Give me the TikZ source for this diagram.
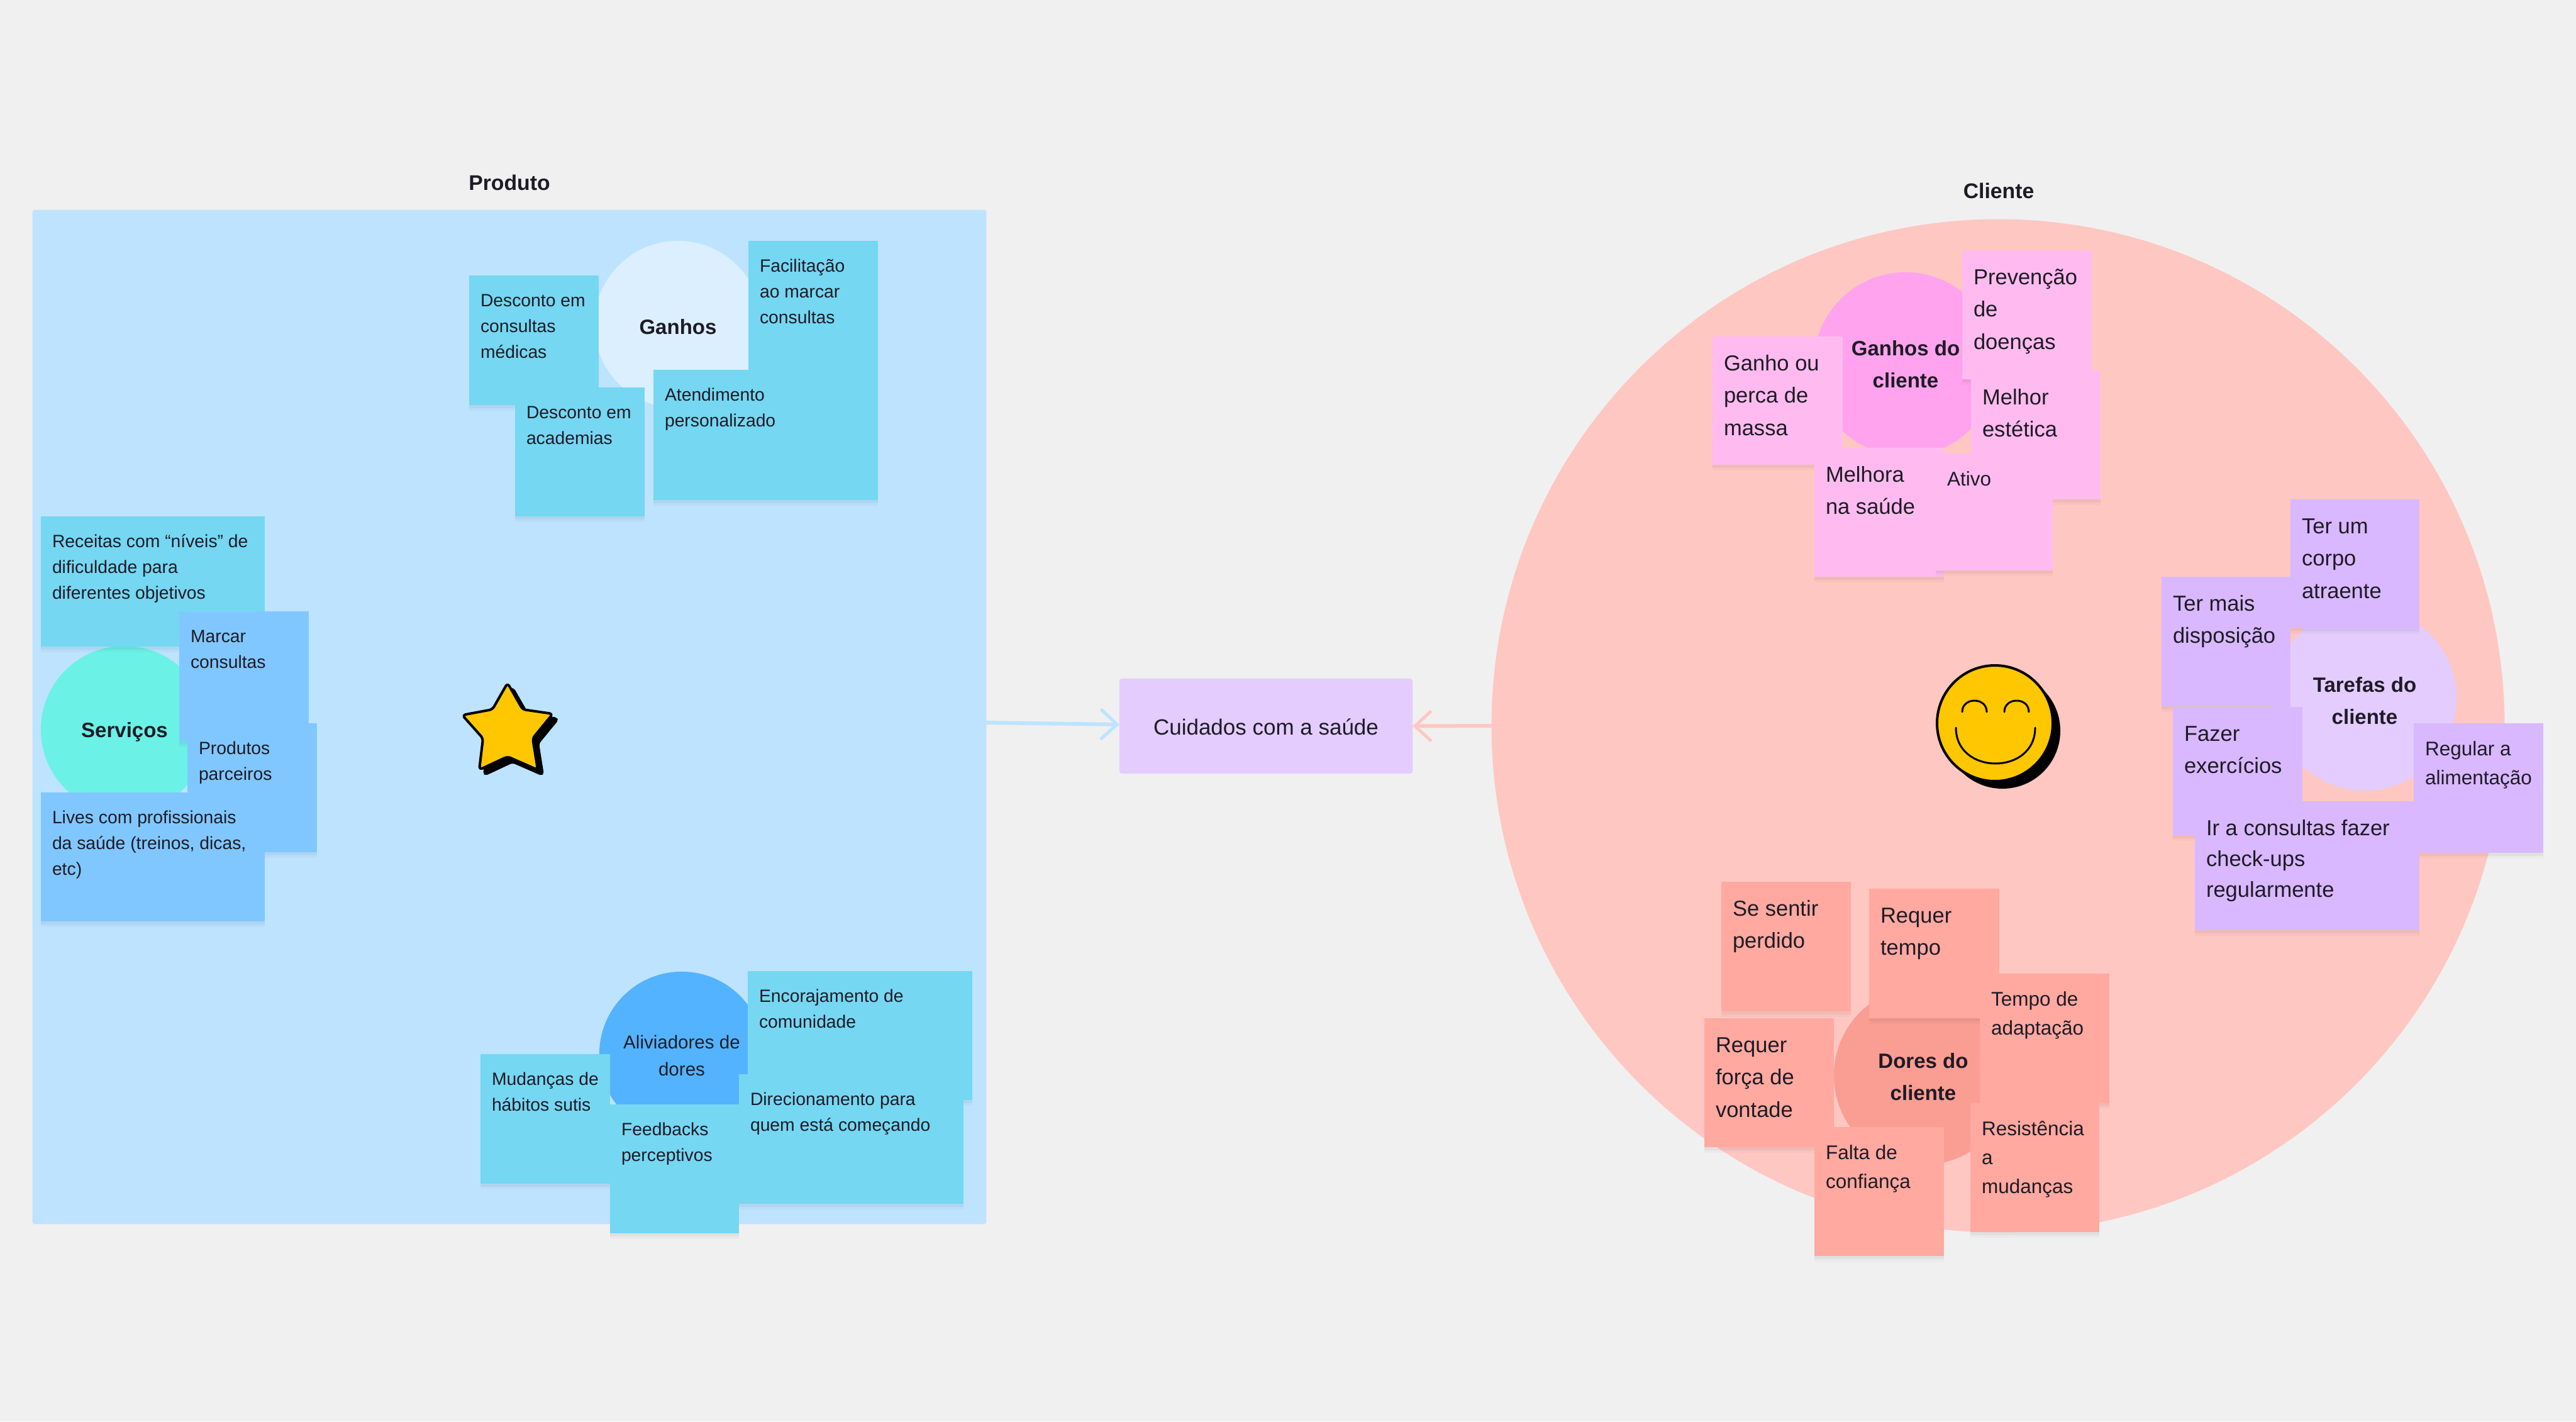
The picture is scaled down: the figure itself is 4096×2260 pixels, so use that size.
\documentclass[tikz,border=0pt]{standalone}
\usepackage{fontspec}
\setmainfont{Liberation Sans}
\usetikzlibrary{arrows.meta,shadows}
\definecolor{bgc}{HTML}{F0F0F0}
\definecolor{panelc}{HTML}{BDE3FF}
\definecolor{clientc}{HTML}{FFC7C2}
\definecolor{goalc}{HTML}{E4CCFF}
\definecolor{inkc}{HTML}{1E1B26}
\definecolor{cyanN}{HTML}{75D7F2}
\definecolor{blueN}{HTML}{80C7FF}
\definecolor{pinkN}{HTML}{FFBBEF}
\definecolor{purpN}{HTML}{D9B8FF}
\definecolor{redN}{HTML}{FFA9A0}
\definecolor{ganhosC}{HTML}{DCEFFF}
\definecolor{servC}{HTML}{6CF1E6}
\definecolor{alivC}{HTML}{53B3FF}
\definecolor{gclC}{HTML}{FFA3EE}
\definecolor{tarC}{HTML}{E4CCFF}
\definecolor{dorC}{HTML}{FA9D93}
\definecolor{yellowS}{HTML}{FFC700}
\newlength\pxu
\setlength\pxu{0.01cm}
\newcommand{\notesmall}{\fontsize{8.05pt}{11.66pt}\selectfont\rule{0pt}{49\pxu}}
\newcommand{\notemid}{\fontsize{8.96pt}{13.2pt}\selectfont\rule{0pt}{51\pxu}}
\newcommand{\notelarge}{\fontsize{9.82pt}{14.75pt}\selectfont\rule{0pt}{54\pxu}}
\newcommand{\notewide}{\fontsize{9.82pt}{13.95pt}\selectfont\rule{0pt}{54\pxu}}
\newcommand{\lowered}[1]{\rule{0pt}{#1\pxu}}
\tikzset{
  stickynote/.style={inner sep=0pt,outer sep=0pt,text=inkc,
    general shadow={shadow xshift=0cm,shadow yshift=-0.09cm,opacity=.025,fill=black},
    general shadow={shadow xshift=0cm,shadow yshift=-0.05cm,opacity=.04,fill=black}},
  blob/.style={circle,inner sep=0pt,outer sep=0pt,text=inkc,align=center,
    font=\fontsize{9.39pt}{14.5pt}\selectfont\bfseries},
  blobplain/.style={blob,font=\fontsize{8.4pt}{12.2pt}\selectfont},
  heading/.style={text=inkc,inner sep=0pt,font=\fontsize{9.6pt}{12pt}\selectfont\bfseries},
  link/.style={line width=0.06cm,line cap=round,-{Straight Barb[length=0.26cm,width=0.48cm,line width=0.05cm]}},
  outlined/.style={draw=black,line width=0.04cm,line join=round}
}
\newcommand{\sticky}[8]{\node[stickynote,fill=#6,anchor=north west] (#1) at (#2,#3)
  {\hspace*{18\pxu}\parbox[c][#5\pxu][t]{\dimexpr#4\pxu-18\pxu\relax}{\raggedright\csname note#7\endcsname #8}};}
\begin{document}
\begin{tikzpicture}[x=0.01cm,y=-0.01cm]
\useasboundingbox (0,0) rectangle (4096,2260);
\fill[bgc] (0,0) rectangle (4096,2260);

% containers
\node[fill=panelc,rounded corners=0.04cm,minimum width=15.16cm,minimum height=16.12cm,inner sep=0pt,outer sep=0pt] (panel) at (810,1140) {};
\node[circle,fill=clientc,minimum size=16.1cm,inner sep=0pt,outer sep=0pt] (client) at (3177,1154) {};
\node[heading] (produto) at (810,290) {Produto};
\node[heading] (cliente) at (3178,303) {Cliente};

% value
\node[fill=goalc,rounded corners=0.04cm,minimum width=4.66cm,minimum height=1.51cm,inner sep=0pt,outer sep=0pt,text=inkc,font=\fontsize{9.95pt}{12pt}\selectfont] (goal) at (2013,1154.5) {\lowered{28}Cuidados com a saúde};
\draw[link,panelc] ([yshift=-0.09cm]panel.east) -- ([yshift=0.025cm]goal.west);
\draw[link,clientc] (client.west) -- (goal.east);

% star
\newcommand{\starshape}{(807,1086) -- (831,1128) -- (879,1135) -- (847,1174) -- (855,1224) -- (807,1203) -- (762,1224) -- (768,1174) -- (735,1137) -- (783,1128) -- cycle}
\begin{scope}[xshift=0.08cm,yshift=-0.08cm]
\fill[black,rounded corners=0.05cm,draw=black,line width=0.04cm] \starshape;
\end{scope}
\draw[outlined,fill=yellowS,rounded corners=0.05cm] \starshape;

% smiley
\fill[black] (3184,1162) circle[radius=92];
\draw[outlined,fill=yellowS] (3172,1150) circle[radius=92];
\draw[black,line width=0.03cm,line cap=round] (3120,1132) .. controls (3120,1108) and (3159,1108) .. (3159,1132);
\draw[black,line width=0.03cm,line cap=round] (3187,1132) .. controls (3187,1108) and (3226,1108) .. (3226,1132);
\draw[black,line width=0.03cm,line cap=round] (3110,1157) .. controls (3110,1233) and (3236,1233) .. (3236,1157);

% Ganhos
\node[blob,fill=ganhosC,minimum size=2.66cm] (ganhos) at (1078,516) {\lowered{32}Ganhos};
\sticky{g1}{746}{438}{206}{206}{cyanN}{small}{Desconto em\\consultas\\médicas}
\sticky{g2}{1190}{383}{206}{206}{cyanN}{small}{Facilitação\\ao marcar\\consultas}
\sticky{g3}{819}{616}{206}{205}{cyanN}{small}{Desconto em\\academias}
\sticky{g4}{1039}{588}{357}{207}{cyanN}{small}{Atendimento\\personalizado}

% Servicos
\node[blob,fill=servC,minimum size=2.66cm] (servicos) at (198,1160) {\lowered{32}Serviços};
\sticky{s1}{65}{821}{356}{207}{cyanN}{small}{Receitas com “níveis” de\\dificuldade para\\diferentes objetivos}
\sticky{s2}{285}{972}{206}{207}{blueN}{small}{Marcar\\consultas}
\sticky{s3}{298}{1150}{206}{205}{blueN}{small}{Produtos\\parceiros}
\sticky{s4}{65}{1260}{356}{205}{blueN}{small}{Lives com profissionais\\da saúde (treinos, dicas,\\etc)}

% Aliviadores
\node[blobplain,fill=alivC,minimum size=2.62cm] (aliv) at (1084,1676) {\lowered{27}Aliviadores de\\dores};
\sticky{a1}{1189}{1544}{357}{205}{cyanN}{small}{Encorajamento de\\comunidade}
\sticky{a2}{1175}{1708}{357}{206}{cyanN}{small}{Direcionamento para\\quem está começando}
\sticky{a3}{764}{1676}{206}{206}{cyanN}{small}{Mudanças de\\hábitos sutis}
\sticky{a4}{970}{1756}{205}{205}{cyanN}{small}{Feedbacks\\perceptivos}

% Ganhos do cliente
\node[blob,fill=gclC,minimum size=2.92cm] (gcl) at (3030,579) {Ganhos do\\cliente};
\sticky{c1}{3120}{398}{206}{205}{pinkN}{large}{Prevenção\\de\\doenças}
\sticky{c2}{2723}{535}{207}{204}{pinkN}{large}{Ganho ou\\perca de\\massa}
\sticky{c3}{3134}{589}{206}{205}{pinkN}{large}{Melhor\\estética}
\sticky{c4}{2885}{712}{206}{205}{pinkN}{large}{Melhora\\na saúde}
\sticky{c5}{3078}{721}{186}{186}{pinkN}{mid}{Ativo}

% Tarefas
\node[blob,fill=tarC,minimum size=2.92cm] (tar) at (3760,1111) {\lowered{31}Tarefas do\\cliente};
\sticky{t1}{3642}{794}{205}{205}{purpN}{large}{Ter um\\corpo\\atraente}
\sticky{t2}{3437}{917}{205}{206}{purpN}{large}{Ter mais\\disposição}
\sticky{t3}{3455}{1124}{206}{204}{purpN}{large}{Fazer\\exercícios}
\sticky{t4}{3838}{1150}{206}{206}{purpN}{mid}{Regular a\\alimentação}
\sticky{t5}{3490}{1274}{357}{205}{purpN}{wide}{Ir a consultas fazer\\check-ups\\regularmente}

% Dores
\node[blob,fill=dorC,minimum size=2.84cm] (dor) at (3058,1710) {\lowered{29}Dores do\\cliente};
\sticky{d1}{2737}{1402}{206}{206}{redN}{large}{Se sentir\\perdido}
\sticky{d2}{2972}{1413}{207}{206}{redN}{large}{Requer\\tempo}
\sticky{d3}{3148}{1548}{206}{206}{redN}{mid}{Tempo de\\adaptação}
\sticky{d4}{2710}{1619}{206}{205}{redN}{large}{Requer\\força de\\vontade}
\sticky{d5}{3133}{1754}{205}{205}{redN}{mid}{Resistência\\a\\mudanças}
\sticky{d6}{2885}{1792}{206}{205}{redN}{mid}{Falta de\\confiança}
\end{tikzpicture}
\end{document}
